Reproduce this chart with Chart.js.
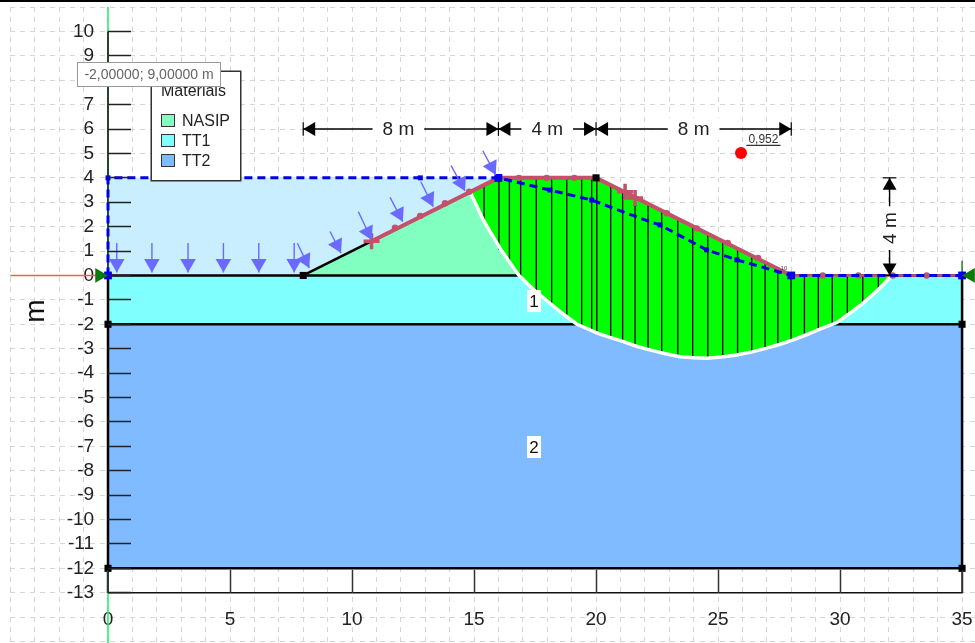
<!DOCTYPE html>
<html>
<head>
<meta charset="utf-8">
<title>Slope stability</title>
<script src="https://cdn.jsdelivr.net/npm/chart.js@4"></script>
<style>
  html, body { margin: 0; padding: 0; background: #fff; overflow: hidden; }
  #wrap { position: relative; width: 975px; height: 643px; font-family: "Liberation Sans", Arial, sans-serif; }
  #topbar { position: absolute; left: 0; top: 0; width: 975px; height: 2px; background: #000; }
  #legend { position: absolute; left: 151px; top: 71px; width: 88px; height: 108px; background: #fff; border: 1px solid #333; box-shadow: 0 0 0 .5px #333; }
  #legend .title { position: absolute; left: 9px; top: 10px; font-size: 16px; color: #222; }
  #legend .row { position: absolute; left: 9px; font-size: 16px; color: #222; line-height: 16px; white-space: nowrap; }
  #legend .row i { display: inline-block; width: 12px; height: 11px; border: 1px solid #333; margin-right: 7px; vertical-align: -1px; }
  #coord { position: absolute; left: 77px; top: 62px; width: 142px; height: 23px; line-height: 23px; background: #fff; border: 1px solid #999; text-align: center; font-size: 14px; color: #666; }
</style>
</head>
<body>
<div id="wrap">
  <canvas id="chart" width="975" height="643"></canvas>
  <div id="topbar"></div>
  <div id="legend"><div class="title">Materials</div></div>
  <div id="coord">-2,00000; 9,00000 m</div>
</div>
<script>
// -- Axes --
var xTickValues = [0, 5, 10, 15, 20, 25, 30, 35];
var yTickValues = [10, 9, 8, 7, 6, 5, 4, 3, 2, 1, 0, -1, -2, -3, -4, -5, -6, -7, -8, -9, -10, -11, -12, -13];

// -- Materials --
var materialNames = ['NASIP', 'TT1', 'TT2'];
var materialColors = ['#80FFC0', '#80FFFF', '#80BBFF'];

// -- Geometry, metres --
var tt2X = [0, 35, 35, 0];
var tt2Y = [-2, -2, -12, -12];
var tt1X = [0, 35, 35, 0];
var tt1Y = [0, 0, -2, -2];
var waterX = [0, 16, 8, 0];
var waterY = [4, 4, 0, 0];
var nasipX = [8, 16, 20, 28];
var nasipY = [0, 4, 4, 0];

// -- Slip surface --
var arcX = [14.84, 15.38, 16.07, 16.82, 17.45, 18.11, 18.65, 19.2, 20.1, 21.12, 21.65, 22.2, 22.8, 23.44, 24.0, 24.53, 25.15, 25.77, 26.4, 27.0, 27.55, 28.08, 28.6, 29.1, 29.87, 30.4, 30.95, 31.3, 31.64, 32.12];
var arcY = [3.42, 2.27, 1.11, 0.02, -0.59, -1.14, -1.58, -1.99, -2.38, -2.71, -2.9, -3.05, -3.2, -3.33, -3.37, -3.39, -3.34, -3.26, -3.13, -2.98, -2.82, -2.64, -2.44, -2.23, -1.93, -1.55, -1.13, -0.82, -0.51, 0];
var massTopX = [32.12, 28, 20, 16, 14.84];
var massTopY = [0, 0, 4, 4, 3.42];

// -- Slices --
var sliceX = [15.41, 16.02, 16.45, 16.91, 17.55, 18.18, 18.8, 19.41, 19.82, 20.03, 20.6, 21.09, 21.6, 22.13, 22.69, 23.35, 23.96, 24.58, 25.19, 25.8, 26.38, 26.93, 27.45, 27.99, 28.54, 29.11, 29.68, 30.3, 30.93, 31.57];
var sliceTop = [3.7, 4, 4, 4, 4, 4, 4, 4, 4, 3.98, 3.7, 3.45, 3.2, 2.93, 2.65, 2.33, 2.02, 1.71, 1.4, 1.1, 0.81, 0.53, 0.27, 0, 0, 0, 0, 0, 0, 0];
var sliceBottom = [2.2, 1.05, 0.56, -0.08, -0.63, -1.2, -1.69, -2.1, -2.27, -2.37, -2.57, -2.7, -2.85, -3.0, -3.16, -3.31, -3.37, -3.39, -3.33, -3.26, -3.12, -3.0, -2.84, -2.67, -2.45, -2.23, -2.0, -1.61, -1.14, -0.57];

// -- Ground, water table --
var surfaceX = [10.8, 16, 20, 28];
var surfaceY = [1.4, 4, 4, 0];
var surfaceDotX = [11.76, 12.79, 13.81, 14.8, 16.84, 17.98, 19.11, 22.9, 24.13, 25.4, 26.64, 29.29, 30.75, 32.16, 33.55];
var surfaceDotY = [1.96, 2.44, 2.96, 3.43, 4, 4, 4, 2.55, 1.93, 1.33, 0.72, 0, 0, 0, 0];
var crossX = [10.8, 21.19, 21.6];
var crossY = [1.4, 3.43, 3.17];
var waterTableX = [0, 0, 16, 18.11, 19.82, 22.2, 22.62, 24.53, 25.77, 28, 35];
var waterTableY = [0, 4, 4, 3.5, 3.09, 2.2, 2.07, 1.05, 0.64, 0, 0];
var waterEndX = [0, 16, 28, 35];
var waterEndY = [0, 4, 0, 0];
var waterNodeX = [0, 12.8, 18.11, 19.82, 22.62, 24.53, 25.77];
var waterNodeY = [4, 4, 3.5, 3.09, 2.07, 1.05, 0.64];
var nodeX = [8, 16, 20, 0, 35, 0, 35];
var nodeY = [0, 4, 4, -2, -2, -12, -12];

// -- Loads: tail start, arrow tip --
var loadDownX = [0.36, 1.8, 3.28, 4.73, 6.18, 7.63];
var loadDownTop = [1.33, 1.33, 1.33, 1.33, 1.33, 1.33];
var loadDownTip = [0.12, 0.12, 0.12, 0.12, 0.12, 0.12];
var loadSlantX0 = [7.76, 9.1, 10.26, 11.56, 12.82, 14.06, 15.36];
var loadSlantY0 = [1.32, 1.8, 2.61, 3.2, 3.84, 4.5, 5.11];
var loadSlantX1 = [8.25, 9.55, 10.81, 12.08, 13.33, 14.63, 15.89];
var loadSlantY1 = [0.31, 0.92, 1.45, 2.2, 2.82, 3.46, 4.12];

// -- Dimensions --
var dimBarsX = [8, 16, 20, 28];
var dimRowY = 6;
var dimColX = 32.03;
var dimColY = [4, 0];

// -- Safety factor --
var factorX = [25.94];
var factorY = [5.02];

// -- Texts, placed in metres --
var dimTexts = ['8 m', '4 m', '8 m', '4 m'];
var dimTextX = [11.9, 18, 24, 32.03];
var dimTextY = [6, 6, 6, 1.94];
var regionTexts = ['1', '2'];
var regionTextX = [17.46, 17.46];
var regionTextY = [-1.05, -7.03];

var FONT = '"Liberation Sans", Arial, sans-serif';
var PX = 24.4;

function pts(xs, ys) {
  return xs.map(function (x, i) { return { x: x, y: ys[i] }; });
}

function area(xs, ys, color) {
  return { data: pts(xs, ys), showLine: true, fill: 'shape', backgroundColor: color, borderWidth: 0, pointRadius: 0 };
}

function stroke(xs, ys, color, width, dash) {
  return { data: pts(xs, ys), showLine: true, fill: false, borderColor: color, borderWidth: width, borderDash: dash || [], pointRadius: 0, borderCapStyle: 'butt' };
}

function marks(xs, ys, style, color, radius, rotation, width) {
  return {
    data: pts(xs, ys), showLine: false, pointStyle: style, pointRadius: radius, pointRotation: rotation || 0,
    pointBackgroundColor: color, pointBorderColor: color, pointBorderWidth: width || 0
  };
}

// triangle centre is one radius behind its tip
function arrowHead(tipX, tipY, angle, radius, color) {
  var rad = angle * Math.PI / 180;
  var back = radius / PX;
  return marks([tipX - Math.sin(rad) * back], [tipY - Math.cos(rad) * back], 'triangle', color, radius, angle);
}

var datasets = [];

// -- Fills and boundaries, back to front --
datasets.push(stroke([-4, 0], [0, 0], '#FF5A3C', 1.5));
datasets.push(stroke([35, 36], [0, 0], '#FF5A3C', 1.5));
datasets.push(stroke([0, 0], [11, -15.1], '#22EE66', 1.5));
datasets.push(area(tt2X, tt2Y, materialColors[2]));
datasets.push(area(tt1X, tt1Y, materialColors[1]));
datasets.push(area(waterX, waterY, '#C8EEFF'));
datasets.push(area(nasipX, nasipY, materialColors[0]));
datasets.push(stroke([0, 0], [10, -13], '#111', 1.5));
datasets.push(stroke([0, 35, 35], [-13, -13, -12], '#111', 1.5));
datasets.push(stroke([0, 0], [0, -12], '#000', 2.5));
datasets.push(stroke([35, 35], [0, -12], '#000', 2.5));
datasets.push(stroke([0, 35], [0, 0], '#000', 2.5));
datasets.push(stroke([0, 35], [-2, -2], '#000', 2.5));
datasets.push(stroke([0, 35], [-12, -12], '#000', 2.5));
datasets.push(stroke([8, 16, 20, 28], [0, 4, 4, 0], '#000', 2.5));
datasets.push(stroke([35, 35], [0, 0.6], '#0B7A0B', 1.4));

// -- Sliding mass --
datasets.push(area(arcX.concat(massTopX), arcY.concat(massTopY), '#00FF00'));
sliceX.forEach(function (x, i) {
  datasets.push(stroke([x, x], [sliceTop[i], sliceBottom[i]], '#000', 1.3));
});
datasets.push(stroke(arcX, arcY, '#fff', 3.5));

// -- Ground surface --
datasets.push(stroke([28, 35], [0, 0], '#C4506A', 2.5));
datasets.push(stroke(surfaceX, surfaceY, '#C4506A', 4));
datasets.push(marks(surfaceDotX, surfaceDotY, 'circle', '#C4506A', 3.2));
datasets.push(marks(crossX, crossY, 'cross', '#C4506A', 8, 0, 3.5));

// -- Water table --
datasets.push(stroke(waterTableX, waterTableY, '#0000E6', 3, [8, 5]));
datasets.push(marks(nodeX, nodeY, 'rect', '#000', 5));
datasets.push(marks(waterEndX, waterEndY, 'rect', '#0000E6', 5.5));
datasets.push(marks(waterNodeX, waterNodeY, 'rect', '#0000E6', 3.5));

// -- Loads --
var LOAD = '#6A6AFF';
loadDownX.forEach(function (x, i) {
  datasets.push(stroke([x, x], [loadDownTop[i], loadDownTip[i]], LOAD, 1.4));
  datasets.push(arrowHead(x, loadDownTip[i], 180, 9, LOAD));
});
loadSlantX0.forEach(function (x, i) {
  datasets.push(stroke([x, loadSlantX1[i]], [loadSlantY0[i], loadSlantY1[i]], LOAD, 1.4));
  datasets.push(arrowHead(loadSlantX1[i], loadSlantY1[i], 153.4, 9, LOAD));
});

// -- Supports --
datasets.push(arrowHead(0, 0, 90, 8.5, '#0B7A0B'));
datasets.push(arrowHead(35, 0, -90, 8.5, '#0B7A0B'));

// -- Dimension lines --
datasets.push(stroke([dimBarsX[0], dimBarsX[3]], [dimRowY, dimRowY], '#000', 1.4));
dimBarsX.forEach(function (x) {
  datasets.push(stroke([x, x], [dimRowY - 0.28, dimRowY + 0.28], '#000', 1.2));
});
datasets.push(arrowHead(8, dimRowY, -90, 8, '#000'));
datasets.push(arrowHead(16, dimRowY, 90, 8, '#000'));
datasets.push(arrowHead(16, dimRowY, -90, 8, '#000'));
datasets.push(arrowHead(20, dimRowY, 90, 8, '#000'));
datasets.push(arrowHead(20, dimRowY, -90, 8, '#000'));
datasets.push(arrowHead(28, dimRowY, 90, 8, '#000'));
datasets.push(stroke([dimColX, dimColX], dimColY, '#000', 1.4));
datasets.push(stroke([dimColX - 0.28, dimColX + 0.28], [dimColY[0], dimColY[0]], '#000', 1.2));
datasets.push(stroke([dimColX - 0.28, dimColX + 0.28], [dimColY[1], dimColY[1]], '#000', 1.2));
datasets.push(arrowHead(dimColX, dimColY[0], 0, 8, '#000'));
datasets.push(arrowHead(dimColX, dimColY[1], 180, 8, '#000'));

// -- Safety factor --
datasets.push(marks(factorX, factorY, 'circle', '#FF0000', 6));
datasets.push(stroke([26.16, 27.56], [5.33, 5.33], '#333', 1.2));

datasets.forEach(function (ds, i) {
  ds.order = datasets.length - i;
});

var textPlugin = {
  id: 'sheetText',
  afterDatasetsDraw: function (chart) {
    var ctx = chart.ctx;
    var sx = chart.scales.x;
    var sy = chart.scales.y;
    ctx.save();
    ctx.textAlign = 'center';
    ctx.textBaseline = 'middle';

    dimTexts.forEach(function (t, i) {
      var px = sx.getPixelForValue(dimTextX[i]);
      var py = sy.getPixelForValue(dimTextY[i]);
      var vertical = i === 3;
      ctx.save();
      ctx.translate(px, py);
      if (vertical) {
        ctx.rotate(-Math.PI / 2);
      }
      ctx.font = '19px ' + FONT;
      var w = ctx.measureText(t).width + (vertical ? 12 : 20);
      ctx.fillStyle = '#fff';
      ctx.fillRect(-w / 2, -11, w, 22);
      ctx.fillStyle = '#222';
      ctx.fillText(t, 0, 1);
      ctx.restore();
    });

    regionTexts.forEach(function (t, i) {
      var px = sx.getPixelForValue(regionTextX[i]);
      var py = sy.getPixelForValue(regionTextY[i]);
      ctx.fillStyle = '#fff';
      ctx.fillRect(px - 7, py - 11, 14, 22);
      ctx.fillStyle = '#111';
      ctx.font = '17px ' + FONT;
      ctx.fillText(t, px, py + 1);
    });

    // safety factor value
    ctx.fillStyle = '#333';
    ctx.font = '12px ' + FONT;
    ctx.fillText('0,952', sx.getPixelForValue(26.86), sy.getPixelForValue(5.55));

    // node number
    ctx.fillStyle = '#444';
    ctx.font = '6px ' + FONT;
    ctx.fillText('10', sx.getPixelForValue(27.7), sy.getPixelForValue(0.3));

    // axis unit
    ctx.save();
    ctx.translate(36, 311);
    ctx.rotate(-Math.PI / 2);
    ctx.fillStyle = '#111';
    ctx.font = '28px ' + FONT;
    ctx.fillText('m', 0, 0);
    ctx.restore();
    ctx.restore();
  }
};

function fixedTicks(values) {
  return function (scale) {
    scale.ticks = values.map(function (v) { return { value: v }; });
  };
}

// overlay axes must not take room from the chart area
function noRoom(scale) {
  if (scale.isHorizontal()) {
    scale.height = 0;
  } else {
    scale.width = 0;
  }
  scale.paddingLeft = scale.paddingRight = scale.paddingTop = scale.paddingBottom = 0;
}

function bareAxis(axis, position, values) {
  var isX = axis === 'x';
  return {
    type: 'linear',
    axis: axis,
    position: position,
    min: isX ? X_MIN : Y_MIN,
    max: isX ? X_MAX : Y_MAX,
    afterBuildTicks: fixedTicks(values),
    afterFit: noRoom,
    border: { display: false },
    grid: { drawOnChartArea: false, drawTicks: false },
    ticks: {
      autoSkip: false,
      maxRotation: 0,
      padding: 0,
      color: '#222',
      font: { family: FONT, size: 19 }
    }
  };
}

var X_MIN = -4.016;
var X_MAX = 35.53;
var Y_MIN = -15.06;
var Y_MAX = 11;

var gridStyle = { color: '#D6D6D6', lineWidth: 1, drawTicks: false };

var xMarks = bareAxis('x', { y: -13 }, xTickValues);
xMarks.grid = { z: 1, drawOnChartArea: false, drawTicks: true, tickLength: -23, tickColor: '#333', tickWidth: 1.5 };
xMarks.ticks.display = false;

var yMarks = bareAxis('y', { x: 0 }, yTickValues);
yMarks.grid = { z: 1, drawOnChartArea: false, drawTicks: true, tickLength: -23, tickColor: '#222', tickWidth: 1.5 };
yMarks.ticks.display = false;

new Chart(document.getElementById('chart').getContext('2d'), {
  type: 'scatter',
  data: { datasets: datasets },
  plugins: [textPlugin],
  options: {
    responsive: false,
    devicePixelRatio: 1,
    animation: false,
    layout: { autoPadding: false, padding: { left: 10, top: 7, right: 0, bottom: 0 } },
    plugins: {
      legend: { display: false },
      tooltip: { enabled: false }
    },
    events: [],
    scales: {
      x: {
        type: 'linear',
        min: X_MIN,
        max: X_MAX,
        afterFit: noRoom,
        border: { display: false, dash: [5, 5] },
        grid: gridStyle,
        ticks: { display: false, stepSize: 1, includeBounds: false, autoSkip: false }
      },
      y: {
        type: 'linear',
        min: Y_MIN,
        max: Y_MAX,
        afterFit: noRoom,
        border: { display: false, dash: [5, 5] },
        grid: gridStyle,
        ticks: { display: false, stepSize: 1, includeBounds: false, autoSkip: false }
      },
      xMarks: xMarks,
      yMarks: yMarks,
      xText: bareAxis('x', { y: -13.65 }, xTickValues),
      yText: bareAxis('y', { x: -0.57 }, yTickValues)
    }
  }
});

// -- Legend --
var legendBox = document.getElementById('legend');
materialNames.forEach(function (name, i) {
  var row = document.createElement('div');
  row.className = 'row';
  row.style.top = (41 + i * 20) + 'px';
  var swatch = document.createElement('i');
  swatch.style.background = materialColors[i];
  row.appendChild(swatch);
  row.appendChild(document.createTextNode(name));
  legendBox.appendChild(row);
});
</script>
</body>
</html>
